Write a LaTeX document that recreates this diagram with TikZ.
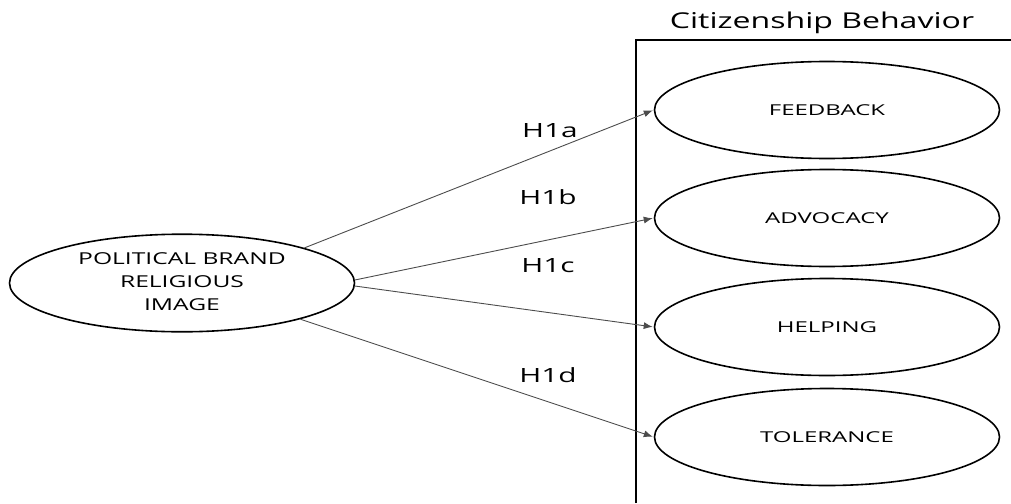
\documentclass[tikz,border=0pt]{standalone}
\usepackage{fontspec}
\usepackage{graphicx}
\setmainfont{Open Sans}
\usetikzlibrary{shapes.geometric,arrows.meta}
\newcommand{\widetext}[2]{\scalebox{#1}[1]{#2}}
\begin{document}
\begin{tikzpicture}[x=1pt,y=-1pt,
  oval/.style={draw=black,line width=1.6pt,ellipse,minimum width=345pt,minimum height=97pt,inner sep=0pt,font=\fontsize{15}{18}\selectfont,text=black},
  link/.style={draw=black!70,line width=0.9pt,-{Latex[length=9pt,width=7pt]},shorten >=1pt},
  hyp/.style={anchor=base,font=\fontsize{19.6}{22}\selectfont,text=black},
  frame/.style={line width=1.8pt}]
\useasboundingbox (0,0) rectangle (1011,503);
\node[anchor=base,text=black] (title) at (822,28.3) {\fontsize{21.8}{24}\selectfont\widetext{1.47}{Citizenship Behavior}};
\coordinate (bxtop) at (636,40);
\coordinate (bxright) at (1011,40);
\coordinate (bxbot) at (636,503);
\draw[frame] (bxbot) -- (bxtop) -- (bxright);
\node[oval] (pb) at (182,283) {\fontsize{16.4}{23}\selectfont\widetext{1.5}{\begin{tabular}{@{}c@{}}POLITICAL BRAND\\RELIGIOUS\\IMAGE\end{tabular}}};
\node[oval] (fb) at (827,110) {\widetext{1.6}{FEEDBACK}};
\node[oval] (ad) at (827,218) {\widetext{1.6}{ADVOCACY}};
\node[oval] (hp) at (827,327) {\widetext{1.6}{HELPING}};
\node[oval] (tl) at (827,437) {\widetext{1.6}{TOLERANCE}};
\draw[link] (pb.16) -- (fb.west);
\draw[link] (pb.1.5) -- (ad.west);
\draw[link] (pb.-1) -- (hp.west);
\draw[link] (pb.-17) -- (tl.west);
\node[hyp] (la) at (550,137) {\widetext{1.52}{H1a}};
\node[hyp] (lb) at (548,204) {\widetext{1.52}{H1b}};
\node[hyp] (lc) at (548,272) {\widetext{1.52}{H1c}};
\node[hyp] (ld) at (548,382) {\widetext{1.52}{H1d}};
\end{tikzpicture}
\end{document}
